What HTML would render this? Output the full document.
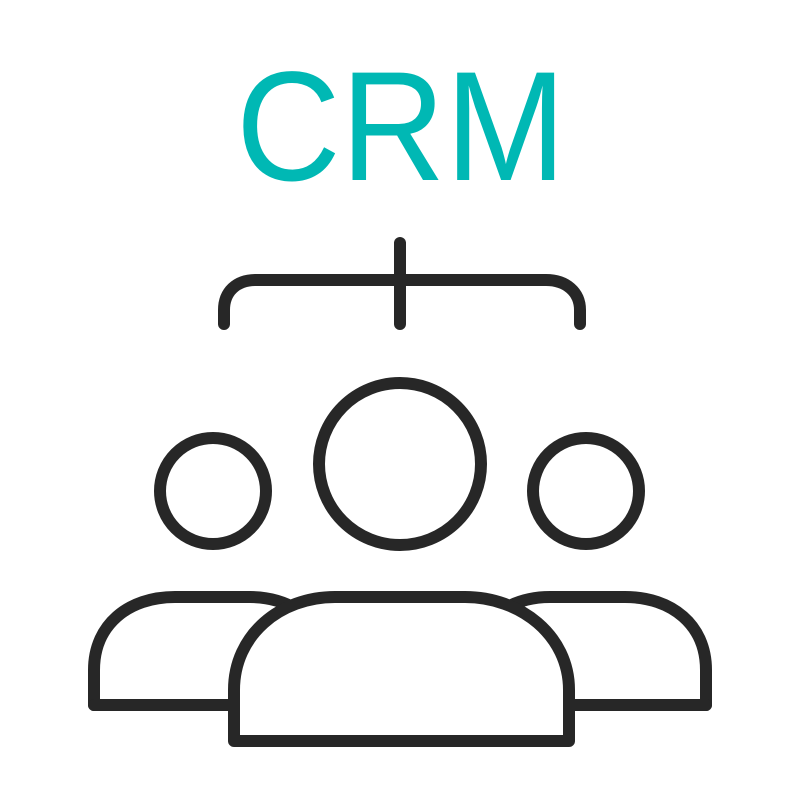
<!DOCTYPE html>
<html><head><style>html,body{margin:0;padding:0;background:#fff;}svg{display:block}</style></head>
<body>
<svg width="800" height="800" viewBox="0 0 800 800" xmlns="http://www.w3.org/2000/svg">
<text x="236" y="180" font-family="Liberation Sans, sans-serif" font-size="156" fill="#00b8b4" textLength="330" lengthAdjust="spacingAndGlyphs">CRM</text>
<g fill="none" stroke="#272727" stroke-width="12" stroke-linecap="round" stroke-linejoin="round">
<path d="M224,324 L224,310 C224,292 236,280 256,280 L546,280 C566,280 580,292 580,310 L580,324"/>
<path d="M400,243 L400,324"/>
<circle cx="213" cy="491" r="53"/>
<circle cx="400" cy="464" r="81"/>
<circle cx="586" cy="491" r="53"/>
<path d="M94,705 L94,670 C94,625 128,597 175,597 L250,597 C270,597 285,602 298,610"/>
<path d="M706,705 L706,670 C706,625 672,597 625,597 L550,597 C530,597 515,602 502,610"/>
<path d="M94,705 L234,705 M566,705 L706,705"/>
<path fill="#fff" d="M234,741 L234,690 C234,635 280,597 335,597 L465,597 C520,597 569,635 569,690 L569,741 Z"/>
</g>
</svg>
</body></html>
